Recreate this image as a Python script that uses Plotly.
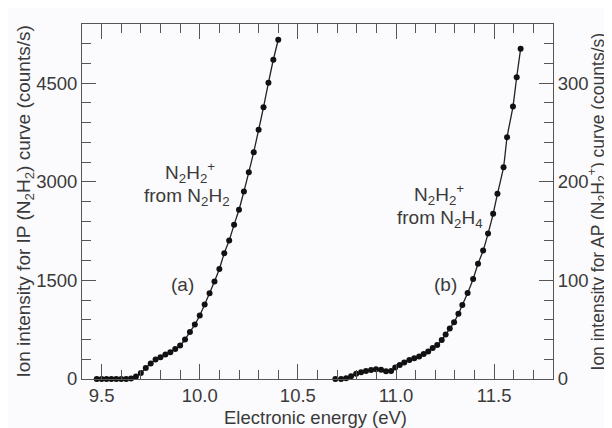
import plotly.graph_objects as go

# ---- data ----
energy_a = [9.475, 9.5, 9.525, 9.55, 9.575, 9.6, 9.625, 9.65, 9.675, 9.7,
            9.725, 9.75, 9.775, 9.8, 9.825, 9.85, 9.875, 9.9, 9.925, 9.95,
            9.975, 10.0, 10.025, 10.05, 10.075, 10.1, 10.125, 10.15, 10.175, 10.2,
            10.225, 10.25, 10.275, 10.3, 10.325, 10.35, 10.375, 10.4]
counts_a = [0, 0, 0, 0, 0, 0, 0, 8, 38, 91,
            167, 236, 297, 332, 373, 408, 456, 510, 601, 715,
            829, 966, 1133, 1305, 1484, 1674, 1914, 2107, 2346, 2574,
            2852, 3146, 3450, 3790, 4134, 4506, 4856, 5160]

energy_b = [10.691, 10.720, 10.746, 10.771, 10.797, 10.822, 10.847, 10.873, 10.898, 10.924,
            10.949, 10.975, 10.996, 11.019, 11.042, 11.068, 11.093, 11.118, 11.141, 11.164,
            11.187, 11.210, 11.233, 11.253, 11.274, 11.296, 11.318, 11.338, 11.365, 11.393,
            11.418, 11.444, 11.469, 11.495, 11.517, 11.548, 11.566, 11.596, 11.615, 11.635]
counts_b = [0, 0, 0.8, 2.8, 5.3, 6.9, 8.1, 9.1, 9.8, 9.3,
            7.9, 8.1, 11.7, 14.2, 16.7, 19.3, 21.0, 22.8, 25.4, 27.9,
            31.4, 34.5, 39.5, 45.1, 51.2, 57.6, 66.1, 75.0, 87.2, 101.4,
            116.8, 130.3, 147.5, 167.5, 187.8, 214.8, 245.2, 276.3, 306.0, 334.8]

x_ticks = [9.5, 10.0, 10.5, 11.0, 11.5]
x_tick_labels = ["9.5", "10.0", "10.5", "11.0", "11.5"]
y1_ticks = [0, 1500, 3000, 4500]
y2_ticks = [0, 100, 200, 300]

FONT = "Liberation Sans, Arial, Helvetica, sans-serif"
TXT = "#3a3a3a"
AX = "#555555"
BG = "#fbfafc"
TICKSIZE = 18.5

fig = go.Figure()
fig.add_trace(go.Scatter(
    x=energy_a, y=counts_a, mode="lines+markers",
    line=dict(color="#222222", width=1.3, shape="spline", smoothing=0.6),
    marker=dict(color="#111111", size=6),
    cliponaxis=False, showlegend=False, yaxis="y"))
fig.add_trace(go.Scatter(
    x=energy_b, y=counts_b, mode="lines+markers",
    line=dict(color="#222222", width=1.3, shape="spline", smoothing=0.6),
    marker=dict(color="#111111", size=6),
    cliponaxis=False, showlegend=False, yaxis="y2"))

# the page body has an 8px default margin, so the figure is drawn 8px smaller
fig.update_layout(
    width=604, height=420,
    margin=dict(l=74, r=59, t=16, b=49, autoexpand=False),
    paper_bgcolor=BG, plot_bgcolor=BG,
    font=dict(family=FONT, size=18, color=TXT),
    xaxis=dict(range=[9.4, 11.8], tickvals=x_ticks, ticktext=x_tick_labels,
               ticks="inside", ticklen=15, tickwidth=1, tickcolor=AX,
               showline=True, linecolor=AX, linewidth=1, mirror="ticks",
               showgrid=False, zeroline=False, automargin=False,
               minor=dict(dtick=0.1, tick0=9.4, ticks="inside", ticklen=9,
                          tickcolor=AX, tickwidth=1, showgrid=False),
               tickfont=dict(size=TICKSIZE, color=TXT)),
    yaxis=dict(range=[0, 5400], tickvals=y1_ticks,
               ticks="inside", ticklen=14, tickwidth=1, tickcolor=AX,
               showline=True, linecolor=AX, linewidth=1,
               showgrid=False, zeroline=False, automargin=False,
               minor=dict(dtick=300, tick0=0, ticks="inside", ticklen=9,
                          tickcolor=AX, tickwidth=1, showgrid=False),
               tickfont=dict(size=TICKSIZE, color=TXT)),
    yaxis2=dict(range=[0, 360], tickvals=y2_ticks, overlaying="y", side="right",
                ticks="inside", ticklen=14, tickwidth=1, tickcolor=AX,
                showline=True, linecolor=AX, linewidth=1,
                showgrid=False, zeroline=False, automargin=False,
                minor=dict(dtick=20, tick0=0, ticks="inside", ticklen=9,
                           tickcolor=AX, tickwidth=1, showgrid=False),
                tickfont=dict(size=TICKSIZE, color=TXT)),
)

ann = []
# axis titles
ann.append(dict(text="Electronic energy (eV)", xref="paper", yref="paper",
                x=0.495, y=-0.108, xanchor="center", yanchor="middle",
                showarrow=False, font=dict(size=18.5, color=TXT)))
ann.append(dict(text="Ion intensity for IP (N<sub>2</sub>H<sub>2</sub>) curve (counts/s)",
                xref="paper", yref="paper", x=-0.123, y=0.5,
                xanchor="center", yanchor="middle", textangle=-90,
                showarrow=False, font=dict(size=19, color=TXT)))
ann.append(dict(text="Ion intensity for AP (N<sub>2</sub>H<sub>2</sub><sup>+</sup>) curve (counts/s)",
                xref="paper", yref="paper", x=1.0955, y=0.5,
                xanchor="center", yanchor="middle", textangle=-90,
                showarrow=False, font=dict(size=17.5, color=TXT)))
# in-plot labels
labels = [
    ("N<sub>2</sub>H<sub>2</sub><sup>+</sup>", 9.949, 3141),
    ("from N<sub>2</sub>H<sub>2</sub>", 9.934, 2761),
    ("(a)", 9.913, 1437),
    ("N<sub>2</sub>H<sub>2</sub><sup>+</sup>", 11.22, 2814),
    ("from N<sub>2</sub>H<sub>4</sub>", 11.225, 2434),
    ("(b)", 11.25, 1437),
]
for t, xx, yy in labels:
    ann.append(dict(text=t, x=xx, y=yy, xref="x", yref="y", showarrow=False,
                    xanchor="center", yanchor="middle", font=dict(size=19, color=TXT)))
fig.update_layout(annotations=ann)

fig.write_html("out.html", config={"displayModeBar": False})
